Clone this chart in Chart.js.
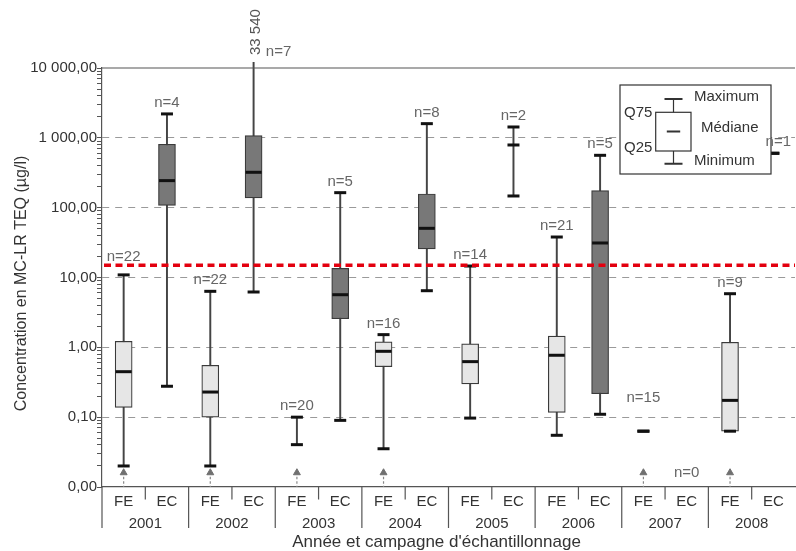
<!DOCTYPE html>
<html>
<head>
<meta charset="utf-8">
<script src="https://cdn.jsdelivr.net/npm/chart.js@4.4.1/dist/chart.umd.min.js"></script>
<style>
  html, body { margin: 0; padding: 0; overflow: hidden; background: #fff; }
  #wrap { width: 806px; height: 551px; }
</style>
</head>
<body>
<div id="wrap"><canvas id="chart"></canvas></div>
<script>
// Box plot data, one entry per year / campaign (FE, EC)
const years = ['2001', '2002', '2003', '2004', '2005', '2006', '2007', '2008'];
const campaigns = ['FE', 'EC'];
const categories = years.flatMap(() => campaigns);

const mins    = [0.02, 0.277, 0.02, 6.2, 0.0404, 0.09, 0.0353, 6.47, 0.097, 147, 0.055, 0.11, 0.063, null, 0.063, 601];
const q25     = [0.138, 108, 0.1, 138, null, 2.57, 0.528, 25.6, 0.299, null, 0.117, 0.217, null, null, 0.063, null];
const medians = [0.448, 244, 0.229, 321, null, 5.67, 0.877, 50.6, 0.624, 790, 0.77, 31.2, null, null, 0.174, null];
const q75     = [1.22, 808, 0.553, 1074, null, 13.5, 1.2, 157, 1.12, null, 1.45, 175, null, null, 1.18, null];
const maxs    = [10.9, 2200, 6.34, 33540, 0.1, 164, 1.52, 1596, 14.6, 1430, 38, 562, 0.063, null, 5.86, 601];
const counts  = [22, 4, 22, 7, 20, 5, 16, 8, 14, 2, 21, 5, 15, 0, 9, 1];
// samples below detection limit (grey arrows)
const belowLimit = [1, 0, 1, 0, 1, 0, 1, 0, 0, 0, 0, 0, 1, 0, 1, 0];
const limitLevel = 0.016;
const threshold = 15;

const yTickValues = [0.01, 0.1, 1, 10, 100, 1000, 10000];
const yTickLabels = ['0,00', '0,10', '1,00', '10,00', '100,00', '1 000,00', '10 000,00'];
const legendLabels = ['Maximum', 'Q75', 'Médiane', 'Q25', 'Minimum'];
const xTitle = "Année et campagne d'échantillonnage";
const yTitle = 'Concentration en MC-LR TEQ (µg/l)';

const font = '"Liberation Sans", Arial, sans-serif';

const whiskers = mins.map((m, i) => m == null ? null : [m, maxs[i]]);
const boxes = q25.map((q, i) => q == null ? null : [q, q75[i]]);
const arrows = belowLimit.map(b => b ? limitLevel : null);

// all log ticks 1..9 x 10^k for the small marks on the axis
const minorTicks = [];
for (let e = -2; e < 4; e++) {
  for (let s = 1; s < 10; s++) minorTicks.push(+(s * Math.pow(10, e)).toPrecision(3));
}
minorTicks.push(10000);

function majorIndex(v) {
  return yTickValues.findIndex(t => Math.abs(Math.log10(t) - Math.log10(v)) < 1e-6);
}

function fmt(v) {
  return String(v).replace(/\B(?=(\d{3})+(?!\d))/g, ' ');
}

// small nudges for a few n= labels
const labelLift = {0: 7, 12: 22};
const labelShiftX = {15: 5};

const overlay = {
  id: 'overlay',
  afterDatasetsDraw(chart) {
    const {ctx, chartArea: a, scales: {x, y}} = chart;
    ctx.save();

    // top frame
    ctx.strokeStyle = '#555';
    ctx.lineWidth = 1.2;
    ctx.beginPath();
    ctx.moveTo(a.left, a.top);
    ctx.lineTo(a.right, a.top);
    ctx.stroke();

    // threshold line
    const ty = y.getPixelForValue(threshold);
    ctx.strokeStyle = '#e3000f';
    ctx.lineWidth = 3.5;
    ctx.setLineDash([7, 4.5]);
    ctx.beginPath();
    ctx.moveTo(a.left + 2, ty);
    ctx.lineTo(a.right, ty);
    ctx.stroke();

    // dashed stems under the arrows
    ctx.setLineDash([2.5, 2]);
    ctx.strokeStyle = '#888';
    ctx.lineWidth = 1.2;
    chart.getDatasetMeta(0).data.forEach((p, i) => {
      if (arrows[i] == null) return;
      ctx.beginPath();
      ctx.moveTo(p.x, p.y + 4);
      ctx.lineTo(p.x, a.bottom);
      ctx.stroke();
    });
    ctx.setLineDash([]);

    // legend
    const L = a.left + 518, T = a.top + 17, lx = L + 53.5;
    ctx.fillStyle = '#fff';
    ctx.fillRect(L, T, 151, 89);
    ctx.strokeStyle = '#333';
    ctx.lineWidth = 1.2;
    ctx.strokeRect(L, T, 151, 89);
    ctx.beginPath();
    ctx.moveTo(lx, T + 14); ctx.lineTo(lx, T + 27.3);
    ctx.moveTo(lx, T + 66); ctx.lineTo(lx, T + 78.7);
    ctx.stroke();
    ctx.strokeRect(L + 35.7, T + 27.3, 35.3, 38.7);
    ctx.lineWidth = 2;
    ctx.beginPath();
    ctx.moveTo(lx - 9, T + 14); ctx.lineTo(lx + 9, T + 14);
    ctx.moveTo(lx - 9, T + 78.7); ctx.lineTo(lx + 9, T + 78.7);
    ctx.moveTo(lx - 6.7, T + 46.5); ctx.lineTo(lx + 6.7, T + 46.5);
    ctx.stroke();
    ctx.font = '15px ' + font;
    ctx.fillStyle = '#333';
    ctx.textAlign = 'left';
    ctx.textBaseline = 'middle';
    ctx.fillText(legendLabels[0], L + 74, T + 12.3);
    ctx.fillText(legendLabels[1], L + 4, T + 28.3);
    ctx.fillText(legendLabels[2], L + 81, T + 43.3);
    ctx.fillText(legendLabels[3], L + 4, T + 63.3);
    ctx.fillText(legendLabels[4], L + 74, T + 76);

    // n= labels
    ctx.fillStyle = '#666';
    ctx.textAlign = 'center';
    counts.forEach((n, i) => {
      const cx = x.getPixelForValue(i) + (labelShiftX[i] || 0);
      if (maxs[i] == null) {
        ctx.fillText('n=' + n, cx, y.getPixelForValue(limitLevel));
      } else if (maxs[i] > y.max) {
        ctx.fillText('n=' + n, cx + 25, a.top - 16);
        ctx.save();
        ctx.translate(cx + 2, a.top - 13);
        ctx.rotate(-Math.PI / 2);
        ctx.textAlign = 'left';
        ctx.fillStyle = '#555';
        ctx.fillText(fmt(maxs[i]), 0, 0);
        ctx.restore();
      } else {
        ctx.fillText('n=' + n, cx, y.getPixelForValue(maxs[i]) - 11 - (labelLift[i] || 0));
      }
    });

    // category separators and year labels
    const w = x.getPixelForValue(1) - x.getPixelForValue(0);
    ctx.strokeStyle = '#555';
    ctx.lineWidth = 1.2;
    ctx.beginPath();
    ctx.moveTo(a.left, a.bottom);
    ctx.lineTo(a.left, a.bottom + 41);
    for (let i = 0; i < categories.length - 1; i++) {
      const bx = x.getPixelForValue(i) + w / 2;
      ctx.moveTo(bx, a.bottom);
      ctx.lineTo(bx, a.bottom + (i % 2 ? 41 : 12.5));
    }
    ctx.stroke();

    ctx.fillStyle = '#333';
    years.forEach((yr, k) => {
      const cx = (x.getPixelForValue(2 * k) + x.getPixelForValue(2 * k + 1)) / 2;
      ctx.fillText(yr, cx, a.bottom + 36.5);
    });

    // axis titles
    ctx.font = '17px ' + font;
    ctx.fillText(xTitle, (a.left + a.right) / 2 - 12, a.bottom + 55);
    ctx.save();
    ctx.translate(22, (a.top + a.bottom) / 2 + 6);
    ctx.rotate(-Math.PI / 2);
    ctx.font = '16px ' + font;
    ctx.fillText(yTitle, 0, 0);
    ctx.restore();

    ctx.restore();
  }
};

const pointSet = (data, radius, order) => ({
  type: 'line',
  data: data,
  showLine: false,
  pointStyle: 'line',
  pointRadius: radius,
  pointBorderWidth: 3,
  pointBorderColor: '#111',
  order: order
});

new Chart(document.getElementById('chart'), {
  type: 'bar',
  data: {
    labels: categories,
    datasets: [
      {
        type: 'line',
        data: arrows,
        showLine: false,
        pointStyle: 'triangle',
        pointRadius: 4,
        pointBackgroundColor: '#707070',
        pointBorderColor: '#707070',
        pointBorderWidth: 1,
        order: 1
      },
      pointSet(maxs, 6, 2),
      pointSet(mins, 6, 2),
      pointSet(medians, medians.map((m, i) => q25[i] == null ? 6 : 8), 3),
      {
        data: boxes,
        backgroundColor: categories.map(c => c === 'FE' ? '#e6e6e6' : '#787878'),
        borderColor: '#3a3a3a',
        borderWidth: 1.2,
        borderSkipped: false,
        barThickness: 17,
        grouped: false,
        order: 4
      },
      {
        data: whiskers,
        backgroundColor: '#444',
        borderWidth: 0,
        barThickness: 1.3,
        grouped: false,
        clip: {left: 0, top: 6, right: 0, bottom: 0},
        order: 5
      }
    ]
  },
  options: {
    animation: false,
    events: [],
    responsive: true,
    maintainAspectRatio: false,
    layout: { padding: { top: 68, right: 5, left: 0, bottom: 0 } },
    plugins: {
      legend: { display: false },
      tooltip: { enabled: false }
    },
    scales: {
      x: {
        grid: { display: false, drawTicks: false },
        border: { color: '#555', width: 1.2 },
        ticks: { color: '#333', font: { size: 15, family: font }, padding: 6, autoSkip: false, maxRotation: 0 },
        afterFit: s => { s.height = 64; }
      },
      y: {
        type: 'logarithmic',
        min: 0.01,
        max: 10000,
        afterBuildTicks: s => { s.ticks = minorTicks.map(v => ({ value: v })); },
        ticks: {
          autoSkip: false,
          padding: 0,
          color: '#333',
          font: { size: 15, family: font },
          callback: v => {
            const k = majorIndex(v);
            return k < 0 ? '' : yTickLabels[k];
          }
        },
        grid: {
          color: c => {
            const k = majorIndex(c.tick.value);
            return k > 0 && k < yTickValues.length - 1 ? '#9a9a9a' : 'rgba(0,0,0,0)';
          },
          tickColor: '#555',
          tickLength: 5,
          lineWidth: 1
        },
        border: { color: '#555', width: 1.2, dash: [7, 6] },
        afterFit: s => { s.width = 102; }
      }
    }
  },
  plugins: [overlay]
});
</script>
</body>
</html>
